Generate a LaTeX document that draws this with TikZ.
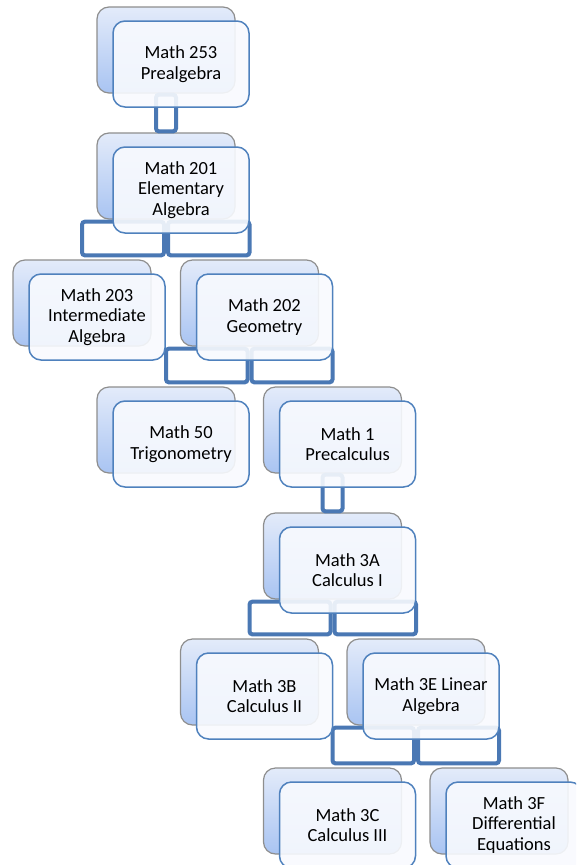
\documentclass[tikz,border=0pt]{standalone}
\usepackage{fontspec}
\setmainfont{Carlito}
\usetikzlibrary{calc, positioning}
\definecolor{backtop}{HTML}{E3EBFA}
\definecolor{backbot}{HTML}{A9C4F2}
\definecolor{backline}{HTML}{8E8E8E}
\definecolor{frontline}{HTML}{4F81BD}
\definecolor{frontfill}{HTML}{F8FAFE}
\definecolor{linkblue}{HTML}{4A78B4}
\tikzset
{%course boxes and links
back/.style={draw=backline, line width=1.2pt, rounded corners=12pt, inner sep=0pt,
	minimum width=138pt, minimum height=86pt, top color=backtop, bottom color=backbot},
front/.style={draw=frontline, line width=1.5pt, rounded corners=12pt, inner sep=0pt,
	minimum width=136pt, minimum height=86pt, fill=frontfill, fill opacity=0.9,
	text opacity=1, align=center, font=\fontsize{18.5}{20.5}\selectfont},
link/.style={draw=linkblue, line width=4pt, rounded corners=3pt, fill=white}
}

\begin{document}
\begin{tikzpicture}[x=1pt, y=-1pt]
	\clip (0,0) rectangle (576,865);

		% [BACK BOXES]
		\node[back] (b253) at (166,50) {};
		\node[back] (b201) at (166,176) {};
		\node[back] (b203) at (82,303) {};
		\node[back] (b202) at (249.5,303) {};
		\node[back] (b50) at (166,430) {};
		\node[back] (b1) at (332.5,430) {};
		\node[back] (b3A) at (332.5,556) {};
		\node[back] (b3B) at (249.5,682) {};
		\node[back] (b3E) at (416,682) {};
		\node[back] (b3C) at (332.5,811) {};
		\node[back] (b3F) at (499,811) {};

		% [LINKS]
		\draw[link] ([xshift=-10pt,yshift=-1pt]b253.south) rectangle ([xshift=10pt,yshift=1pt]b201.north);
		\draw[link] ([xshift=-2pt,yshift=-2pt]b201.south) rectangle ([yshift=4pt]b203.north);
		\draw[link] ([xshift=2pt,yshift=-2pt]b201.south) rectangle ([yshift=4pt]b202.north);
		\draw[link] ([xshift=-2pt,yshift=-2pt]b202.south) rectangle ([yshift=4pt]b50.north);
		\draw[link] ([xshift=2pt,yshift=-2pt]b202.south) rectangle ([yshift=4pt]b1.north);
		\draw[link] ([xshift=-10pt,yshift=-1pt]b1.south) rectangle ([xshift=10pt,yshift=1pt]b3A.north);
		\draw[link] ([xshift=-2pt,yshift=-2pt]b3A.south) rectangle ([yshift=4pt]b3B.north);
		\draw[link] ([xshift=2pt,yshift=-2pt]b3A.south) rectangle ([yshift=4pt]b3E.north);
		\draw[link] ([xshift=-2pt,yshift=-2pt]b3E.south) rectangle ([yshift=4pt]b3C.north);
		\draw[link] ([xshift=2pt,yshift=-2pt]b3E.south) rectangle ([yshift=4pt]b3F.north);

		% [FRONT BOXES]
		\node[front] (m253) at ($(b253)+(15,14)$) {Math 253\\Prealgebra};
		\node[front] (m201) at ($(b201)+(15,14)$) {Math 201\\Elementary\\Algebra};
		\node[front] (m203) at ($(b203)+(15,14)$) {Math 203\\Intermediate\\Algebra};
		\node[front] (m202) at ($(b202)+(15,14)$) {Math 202\\Geometry};
		\node[front] (m50) at ($(b50)+(15,14)$) {Math 50\\Trigonometry};
		\node[front] (m1) at ($(b1)+(15,14)$) {Math 1\\Precalculus};
		\node[front] (m3A) at ($(b3A)+(15,14)$) {Math 3A\\Calculus I};
		\node[front] (m3B) at ($(b3B)+(15,14)$) {Math 3B\\Calculus II};
		\node[front] (m3E) at ($(b3E)+(15,14)$) {Math 3E Linear\\Algebra};
		\node[front] (m3C) at ($(b3C)+(15,14)$) {Math 3C\\Calculus III};
		\node[front] (m3F) at ($(b3F)+(15,14)$) {Math 3F\\Differential\\Equations};
\end{tikzpicture}
\end{document}
